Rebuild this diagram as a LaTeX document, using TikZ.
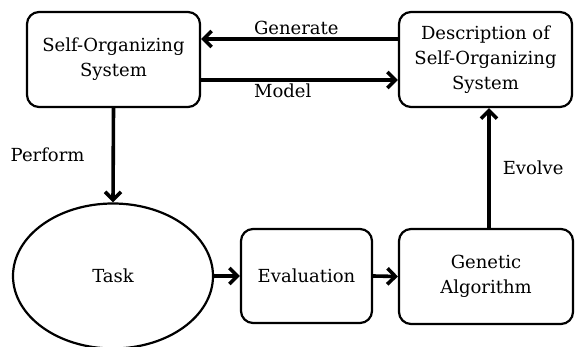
\documentclass[tikz,border=0pt]{standalone}
\usepackage{fontspec}
\setmainfont{DejaVu Serif}
\usetikzlibrary{arrows.meta,shapes.geometric}
\begin{document}
\begin{tikzpicture}[x=1pt, y=-1pt, >={Straight Barb[length=8pt,width=16pt]},
  box/.style={draw, line width=2.2pt, rounded corners=12pt, align=center,
    font=\fontsize{18}{25}\selectfont, minimum width=173pt, minimum height=95pt, inner sep=0pt},
  conn/.style={->, line width=3.6pt},
  lbl/.style={font=\fontsize{18}{20}\selectfont, inner sep=2pt}]
  \useasboundingbox (0,0) rectangle (575,347);

  % Top row
  \node[box] (sos) at (113.5,59.5) {Self-Organizing\\System};
  \node[box] (desc) at (485.5,59.5) {Description of\\Self-Organizing\\System};

  % Bottom row
  \node[draw, ellipse, line width=2.2pt, minimum width=200pt, minimum height=145pt,
    font=\fontsize{18}{25}\selectfont] (task) at (113,276) {Task};
  \node[box, minimum width=131pt, minimum height=94pt] (eval) at (306.5,276) {Evaluation};
  \node[box, minimum width=174pt, minimum height=95pt] (ga) at (486,276.5) {Genetic\\Algorithm};

  % Connectors
  \draw[conn] ([yshift=20.5pt]desc.west) -- ([yshift=20.5pt]sos.east)
    node[lbl, pos=0.75, anchor=south west] {Generate};
  \draw[conn] ([yshift=-20.5pt]sos.east) -- ([yshift=-20.5pt]desc.west)
    node[lbl, pos=0.25, anchor=north west] {Model};
  \draw[conn] (sos.south) -- (task.north)
    node[lbl, midway, left=25pt] {Perform};
  \draw[conn] (task.east) -- (eval.west);
  \draw[conn] (eval.east) -- (ga.west);
  \draw[conn] ([xshift=3pt]ga.north) -- ([xshift=3pt]ga.north |- desc.south)
    node[lbl, midway, right=10pt] {Evolve};
\end{tikzpicture}
\end{document}
